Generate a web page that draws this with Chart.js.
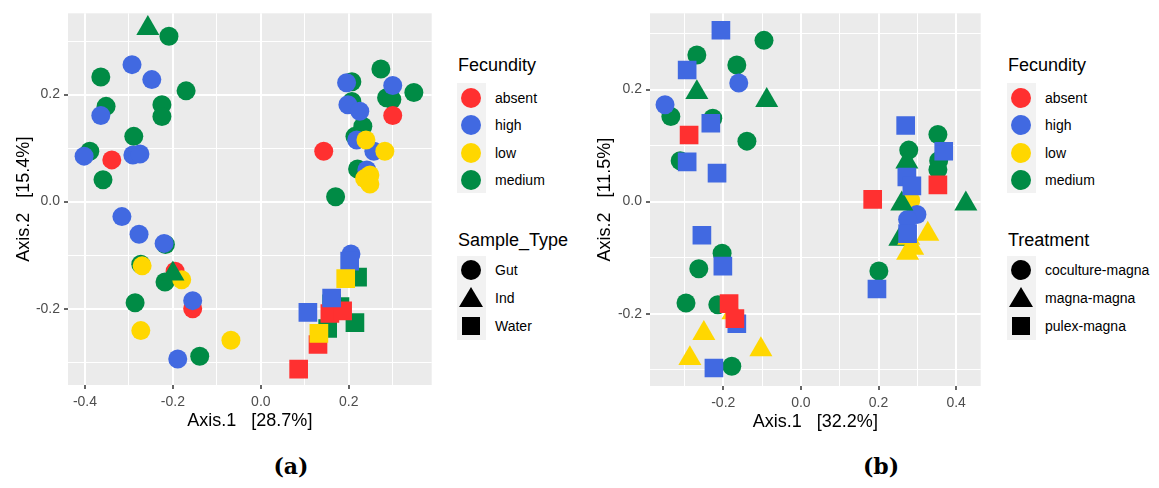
<!DOCTYPE html>
<html>
<head>
<meta charset="utf-8">
<script src="https://cdn.jsdelivr.net/npm/chart.js@4/dist/chart.umd.min.js"></script>
<style>
  body { margin: 0; background: #fff; font-family: "Liberation Sans", Arial, sans-serif; }
  #wrap { position: relative; width: 1159px; height: 488px; }
  canvas { position: absolute; top: 0; }
  .ltitle { position: absolute; font-size: 18px; line-height: 20px; color: #000; }
  .keys { position: absolute; background: #F2F2F2; width: 29px; }
  .lab { position: absolute; font-size: 14px; line-height: 16px; color: #000; white-space: nowrap; }
  .sh { position: absolute; }
  .cap { position: absolute; top: 453px; width: 60px; text-align: center; font: bold 22px "DejaVu Serif", serif; }
</style>
</head>
<body>
<div id="wrap">
  <canvas id="chartA" width="445" height="440" style="left:0"></canvas>
  <canvas id="chartB" width="414" height="440" style="left:580px"></canvas>
  <div class="cap" style="left:261px">(a)</div>
  <div class="cap" style="left:851px">(b)</div>
</div>
<script>
// panel (a): Sample_Type x Fecundity
const aGutAbsent = [[-0.339,0.078],[0.143,0.094],[0.300,0.161],[-0.195,-0.130],[-0.155,-0.200]];
const aGutHigh = [[-0.293,0.256],[-0.248,0.228],[-0.364,0.161],[-0.402,0.085],[-0.291,0.087],[-0.275,0.089],
  [0.195,0.222],[0.300,0.217],[0.198,0.181],[0.225,0.169],[0.218,0.115],[0.257,0.094],[0.241,0.059],
  [-0.316,-0.028],[-0.277,-0.061],[-0.220,-0.078],[-0.155,-0.185],[-0.189,-0.294],[0.205,-0.098]];
const aGutLow = [[0.239,0.115],[0.282,0.094],[0.248,0.050],[0.236,0.043],[0.248,0.033],
  [-0.270,-0.120],[-0.180,-0.146],[-0.273,-0.241],[-0.068,-0.259]];
const aGutMedium = [[-0.209,0.309],[-0.364,0.233],[-0.170,0.207],[-0.352,0.178],[-0.225,0.181],[-0.225,0.159],
  [-0.289,0.122],[-0.389,0.094],[-0.359,0.041],[0.273,0.248],[0.207,0.224],[0.348,0.204],[0.286,0.194],
  [0.298,0.191],[0.207,0.187],[0.232,0.141],[0.214,0.122],[0.220,0.061],[0.170,0.009],[-0.217,-0.080],
  [-0.273,-0.117],[-0.218,-0.150],[-0.286,-0.189],[-0.139,-0.289]];
const aIndMedium = [[-0.257,0.324],[-0.200,-0.135]];
const aWaterAbsent = [[0.157,-0.209],[0.186,-0.204],[0.130,-0.267],[0.086,-0.313]];
const aWaterHigh = [[0.202,-0.111],[0.161,-0.180],[0.107,-0.207]];
const aWaterLow = [[0.193,-0.144],[0.132,-0.246]];
const aWaterMedium = [[0.220,-0.141],[0.161,-0.191],[0.214,-0.226],[0.152,-0.237],[0.180,-0.196]];

// panel (b): Treatment x Fecundity
const bCocMedium = [[-0.095,0.288],[-0.268,0.262],[-0.165,0.244],[-0.335,0.152],[-0.227,0.149],[-0.139,0.108],
  [-0.311,0.073],[0.353,0.120],[0.278,0.092],[0.355,0.073],[0.353,0.057],[0.201,-0.124],[-0.203,-0.092],
  [-0.263,-0.120],[-0.296,-0.181],[-0.214,-0.184],[-0.178,-0.294]];
const bCocHigh = [[-0.160,0.212],[-0.350,0.173],[0.299,-0.023],[0.275,-0.032]];
const bCocLow = [[0.283,0.002]];
const bMagMedium = [[-0.268,0.195],[-0.088,0.181],[0.273,0.071],[0.260,-0.004],[0.425,-0.004],[0.255,-0.067]];
const bMagLow = [[0.278,-0.065],[0.327,-0.058],[0.288,-0.083],[0.275,-0.092],[-0.175,-0.198],[-0.250,-0.235],
  [-0.103,-0.264],[-0.286,-0.280]];
const bPulHigh = [[-0.206,0.306],[-0.293,0.235],[-0.232,0.140],[-0.293,0.071],[-0.216,0.051],[0.270,0.136],
  [0.368,0.090],[0.273,0.044],[0.286,0.028],[0.275,-0.057],[0.196,-0.156],[-0.255,-0.060],[-0.201,-0.115],
  [-0.165,-0.218],[-0.224,-0.297]];
const bPulAbsent = [[-0.288,0.119],[0.353,0.030],[0.185,0.004],[-0.185,-0.182],[-0.170,-0.209]];

// ticks (minor ticks carry empty labels)
const aXTicks = [-0.4,-0.3,-0.2,-0.1,0,0.1,0.2,0.3];
const aXLabels = ['-0.4','','-0.2','','0.0','','0.2',''];
const aYTicks = [-0.3,-0.2,-0.1,0,0.1,0.2,0.3];
const aYLabels = ['','-0.2','','0.0','','0.2',''];
const bXTicks = [-0.3,-0.2,-0.1,0,0.1,0.2,0.3,0.4];
const bXLabels = ['','-0.2','','0.0','','0.2','','0.4'];
const bYTicks = [-0.3,-0.2,-0.1,0,0.1,0.2,0.3];
const bYLabels = ['','-0.2','','0.0','','0.2',''];

const fecundity = ['absent','high','low','medium'];
const fecColors = ['#FF3030','#4169E1','#FFD700','#008B45'];

const COL = { absent: '#FF3030', high: '#4169E1', low: '#FFD700', medium: '#008B45' };
const SIZE = { circle: 9.5, triangle: 13.3, rect: 13.2 };

function ds(pts, fec, shape, order) {
  return {
    data: pts.map(p => ({ x: p[0], y: p[1] })),
    backgroundColor: COL[fec],
    borderWidth: 0,
    pointStyle: shape,
    pointRadius: SIZE[shape],
    pointHoverRadius: SIZE[shape],
    order: order
  };
}

const panelBg = {
  id: 'panelBg',
  beforeDraw(chart) {
    const { ctx, chartArea: a } = chart;
    ctx.save();
    ctx.fillStyle = '#EBEBEB';
    ctx.fillRect(a.left, a.top, a.right - a.left, a.bottom - a.top);
    ctx.restore();
  }
};

function axis(ticks, labels, min, max, title, fitSize, horiz, titlePad) {
  return {
    type: 'linear',
    min: min, max: max,
    afterBuildTicks: s => { s.ticks = ticks.map(v => ({ value: v })); },
    afterFit: s => { if (horiz) s.height = fitSize; else s.width = fitSize; },
    ticks: {
      autoSkip: false, maxRotation: 0, padding: horiz ? 5 : 4,
      color: '#4D4D4D',
      font: { family: 'Liberation Sans', size: 14 },
      callback: (v, i) => labels[i]
    },
    grid: {
      color: '#FFFFFF',
      lineWidth: c => (c.tick && labels[c.index] !== '') ? 2 : 1,
      tickColor: c => (c.tick && labels[c.index] !== '') ? '#333333' : 'rgba(0,0,0,0)',
      tickLength: 4,
      tickWidth: 1.5
    },
    border: { display: false },
    title: {
      display: true, text: title, color: '#000',
      font: { family: 'Liberation Sans', size: 18 },
      padding: titlePad
    }
  };
}

function makeChart(id, datasets, xs, ys, pad) {
  new Chart(document.getElementById(id), {
    type: 'scatter',
    data: { datasets: datasets },
    options: {
      responsive: false, animation: false, devicePixelRatio: 1,
      layout: { padding: { top: 10, right: pad, bottom: 0, left: 0 } },
      plugins: { legend: { display: false }, tooltip: { enabled: false } },
      scales: { x: xs, y: ys }
    },
    plugins: [panelBg]
  });
}

makeChart('chartA', [
  ds(aWaterLow, 'low', 'rect', 0),
  ds(aWaterHigh, 'high', 'rect', 1),
  ds(aWaterAbsent, 'absent', 'rect', 2),
  ds(aWaterMedium, 'medium', 'rect', 3),
  ds(aIndMedium, 'medium', 'triangle', 4),
  ds(aGutLow, 'low', 'circle', 5),
  ds(aGutHigh, 'high', 'circle', 6),
  ds(aGutAbsent, 'absent', 'circle', 7),
  ds(aGutMedium, 'medium', 'circle', 8)
],
  axis(aXTicks, aXLabels, -0.4386, 0.3886, 'Axis.1   [28.7%]', 55, true, { top: 0, bottom: 8 }),
  axis(aYTicks, aYLabels, -0.3426, 0.3519, 'Axis.2   [15.4%]', 68, false, { top: 13, bottom: 0 }),
  13);

makeChart('chartB', [
  ds(bPulAbsent, 'absent', 'rect', 0),
  ds(bPulHigh, 'high', 'rect', 1),
  ds(bMagLow, 'low', 'triangle', 2),
  ds(bMagMedium, 'medium', 'triangle', 3),
  ds(bCocHigh, 'high', 'circle', 4),
  ds(bCocLow, 'low', 'circle', 5),
  ds(bCocMedium, 'medium', 'circle', 6)
],
  axis(bXTicks, bXLabels, -0.3887, 0.4633, 'Axis.1   [32.2%]', 54, true, { top: 0, bottom: 7 }),
  axis(bYTicks, bYLabels, -0.3292, 0.3363, 'Axis.2   [11.5%]', 70, false, { top: 14, bottom: 0 }),
  13);

// legends (ggplot style, drawn as html)
const shapeNamesA = ['Gut','Ind','Water'];
const shapeNamesB = ['coculture-magna','magna-magna','pulex-magna'];

function el(cls, style, text) {
  const d = document.createElement('div');
  d.className = cls;
  Object.assign(d.style, style);
  if (text) d.textContent = text;
  document.getElementById('wrap').appendChild(d);
  return d;
}

function shapeEl(kind, cx, cy, color) {
  if (kind === 0) {
    el('sh', { left: (cx - 10) + 'px', top: (cy - 10) + 'px', width: '20px', height: '20px', borderRadius: '50%', background: color });
  } else if (kind === 1) {
    el('sh', { left: (cx - 12) + 'px', top: (cy - 11) + 'px', width: 0, height: 0,
      borderLeft: '12px solid transparent', borderRight: '12px solid transparent', borderBottom: '20px solid ' + color });
  } else {
    el('sh', { left: (cx - 9) + 'px', top: (cy - 9) + 'px', width: '18px', height: '18px', background: color });
  }
}

function legend(x0, shapeTitle, shapeNames) {
  el('ltitle', { left: (x0 + 1) + 'px', top: '55px' }, 'Fecundity');
  el('keys', { left: x0 + 'px', top: '83px', height: '110px' });
  fecundity.forEach((f, i) => {
    const cy = 97.5 + i * 27.5;
    shapeEl(0, x0 + 14, cy, fecColors[i]);
    el('lab', { left: (x0 + 38) + 'px', top: (cy - 8) + 'px' }, f);
  });
  el('ltitle', { left: (x0 + 1) + 'px', top: '230px' }, shapeTitle);
  el('keys', { left: x0 + 'px', top: '256px', height: '84px' });
  shapeNames.forEach((s, i) => {
    const cy = 270 + i * 28;
    shapeEl(i, x0 + 14, cy, '#000');
    el('lab', { left: (x0 + 38) + 'px', top: (cy - 8) + 'px' }, s);
  });
}

legend(457, 'Sample_Type', shapeNamesA);
legend(1007, 'Treatment', shapeNamesB);
</script>
</body>
</html>
